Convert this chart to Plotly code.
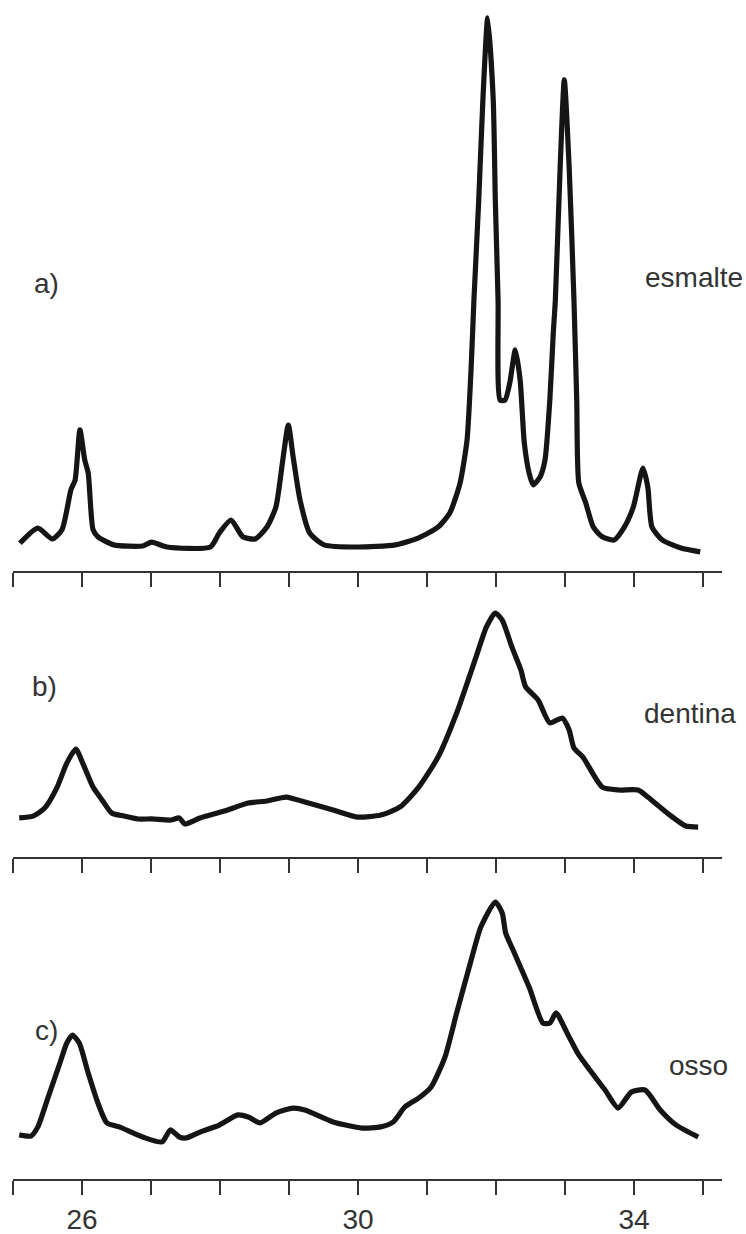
import plotly.graph_objects as go

# ---- Data (2theta, relative intensity) ----
theta_a = [25.10, 25.36, 25.57, 25.71, 25.84, 25.90, 25.97, 26.04, 26.09, 26.16, 26.23, 26.46,
           26.88, 27.01, 27.23, 27.86, 27.99, 28.16, 28.33, 28.51, 28.68, 28.81, 28.91, 28.99,
           29.06, 29.16, 29.30, 29.51, 29.99, 30.54, 30.88, 31.16, 31.33, 31.48, 31.58, 31.64,
           31.68, 31.75, 31.81, 31.88, 31.96, 31.99, 32.03, 32.06, 32.13, 32.20, 32.28, 32.35,
           32.41, 32.48, 32.54, 32.64, 32.71, 32.78, 32.83, 32.86, 32.93, 32.99, 33.06, 33.13,
           33.17, 33.20, 33.30, 33.41, 33.54, 33.71, 33.86, 33.99, 34.13, 34.20, 34.26, 34.41,
           34.68, 34.96]
int_a = [3.1, 5.9, 3.9, 5.6, 13.0, 14.8, 24.1, 18.5, 16.1, 5.6, 4.3, 2.8,
         2.6, 3.3, 2.4, 2.4, 5.0, 7.4, 4.3, 3.9, 6.1, 9.8, 18.5, 25.0,
         19.1, 11.1, 5.0, 2.8, 2.4, 2.8, 4.1, 6.1, 8.7, 14.3, 22.2, 35.7,
         48.1, 66.7, 85.2, 100.4, 85.2, 66.7, 48.1, 29.6, 29.6, 32.8, 38.9, 33.3,
         21.7, 16.1, 13.9, 15.4, 18.5, 29.6, 42.0, 48.1, 72.8, 88.9, 72.8, 48.1,
         29.6, 14.3, 10.6, 6.1, 4.3, 3.7, 6.1, 9.8, 17.0, 13.5, 6.1, 3.7,
         2.2, 1.5]

theta_b = [25.09, 25.29, 25.46, 25.64, 25.78, 25.91, 26.01, 26.16, 26.29, 26.43, 26.61, 26.81,
           27.01, 27.29, 27.41, 27.49, 27.71, 28.06, 28.41, 28.68, 28.96, 29.23, 29.64, 29.99,
           30.33, 30.61, 30.88, 31.16, 31.43, 31.71, 31.86, 31.99, 32.09, 32.23, 32.36, 32.43,
           32.61, 32.78, 32.96, 33.06, 33.13, 33.26, 33.54, 33.78, 34.06, 34.20, 34.48, 34.75,
           34.93]
int_b = [1.0, 1.9, 5.8, 15.9, 27.5, 34.3, 27.5, 15.9, 9.7, 3.4, 1.9, 0.5,
         0.5, 0.0, 1.0, -1.9, 1.0, 4.3, 8.2, 9.2, 11.1, 8.7, 4.8, 1.4,
         2.4, 6.3, 15.9, 30.4, 51.7, 78.7, 93.2, 100.0, 96.6, 83.6, 72.5, 64.3,
         58.0, 46.9, 49.3, 43.5, 34.8, 30.4, 15.9, 14.5, 14.5, 11.1, 3.4, -2.9,
         -3.4]

theta_c = [25.09, 25.26, 25.36, 25.51, 25.68, 25.78, 25.86, 25.96, 26.09, 26.23, 26.36, 26.54,
           26.88, 27.16, 27.28, 27.41, 27.51, 27.71, 27.99, 28.26, 28.41, 28.58, 28.81, 29.06,
           29.23, 29.64, 30.06, 30.33, 30.51, 30.68, 30.88, 31.06, 31.26, 31.43, 31.64, 31.78,
           31.99, 32.09, 32.14, 32.26, 32.48, 32.68, 32.78, 32.87, 33.03, 33.20, 33.36, 33.58,
           33.77, 33.96, 34.16, 34.38, 34.61, 34.93]
int_c = [0.9, 0.4, 4.3, 17.0, 31.5, 40.0, 43.4, 40.0, 27.2, 14.5, 6.0, 4.3,
         0.0, -2.1, 3.0, 0.0, -0.4, 2.1, 5.1, 9.4, 8.5, 6.0, 10.2, 12.3,
         11.5, 6.4, 3.8, 4.3, 6.4, 12.8, 16.6, 21.3, 34.0, 52.8, 75.3, 89.4,
         100.0, 95.3, 86.8, 78.7, 63.8, 48.5, 48.5, 52.8, 44.3, 34.9, 28.5, 20.0,
         12.3, 19.1, 20.0, 11.5, 5.1, 0.0]

tick_vals = [25, 26, 27, 28, 29, 30, 31, 32, 33, 34, 35]
tick_text = ["", "26", "", "", "", "30", "", "", "", "34", ""]

panel_labels = ["a)", "b)", "c)"]
sample_names = ["esmalte", "dentina", "osso"]

W, H = 746, 1234
LINE = "#151515"
TXT = "#333333"
FONT = "Liberation Sans Narrow, Arial Narrow, Liberation Sans, Arial, sans-serif"

fig = go.Figure()
series = [(theta_a, int_a), (theta_b, int_b), (theta_c, int_c)]
for i, (xs, ys) in enumerate(series):
    fig.add_trace(go.Scatter(
        x=xs, y=ys, mode="lines",
        line=dict(color=LINE, width=5.2, shape="spline", smoothing=0.6),
        xaxis="x" if i == 0 else f"x{i+1}",
        yaxis="y" if i == 0 else f"y{i+1}",
        showlegend=False, hoverinfo="skip"))

def px2paper(py):
    return 1 - py / H

xdomain = [13 / W, 722 / W]
xrange = [25, 25 + 709 / 69]
ydomains = [[px2paper(571), 1.0], [px2paper(857), px2paper(585)], [px2paper(1179), px2paper(870)]]
yranges = [[-2.04, 103.7], [-17.87, 113.53], [-17.87, 113.62]]

layout = dict(
    width=W, height=H,
    margin=dict(l=0, r=0, t=0, b=0),
    paper_bgcolor="white", plot_bgcolor="white",
    font=dict(family=FONT, color=TXT, size=27),
)
for i in range(3):
    xa = "xaxis" if i == 0 else f"xaxis{i+1}"
    ya = "yaxis" if i == 0 else f"yaxis{i+1}"
    layout[xa] = dict(
        domain=xdomain, range=xrange, anchor="y" if i == 0 else f"y{i+1}",
        showline=True, linecolor="#333333", linewidth=2,
        ticks="outside", ticklen=14, tickwidth=2, tickcolor="#333333",
        tickvals=tick_vals, ticktext=tick_text,
        showticklabels=(i == 2), showgrid=False, zeroline=False,
        tickfont=dict(family=FONT, size=28, color=TXT),
    )
    layout[ya] = dict(domain=ydomains[i], range=yranges[i], visible=False,
                      anchor="x" if i == 0 else f"x{i+1}")
fig.update_layout(**layout)

label_pos = [(46, 283), (44, 686), (46, 1030)]
name_pos = [(694, 277), (690, 713), (698, 1065)]
for i in range(3):
    fig.add_annotation(text=panel_labels[i], xref="paper", yref="paper",
                       x=label_pos[i][0] / W, y=px2paper(label_pos[i][1]),
                       showarrow=False, xanchor="center", yanchor="middle",
                       font=dict(family=FONT, size=28, color=TXT))
    fig.add_annotation(text=sample_names[i], xref="paper", yref="paper",
                       x=name_pos[i][0] / W, y=px2paper(name_pos[i][1]),
                       showarrow=False, xanchor="center", yanchor="middle",
                       font=dict(family=FONT, size=28, color=TXT))

fig.write_html("out.html")
